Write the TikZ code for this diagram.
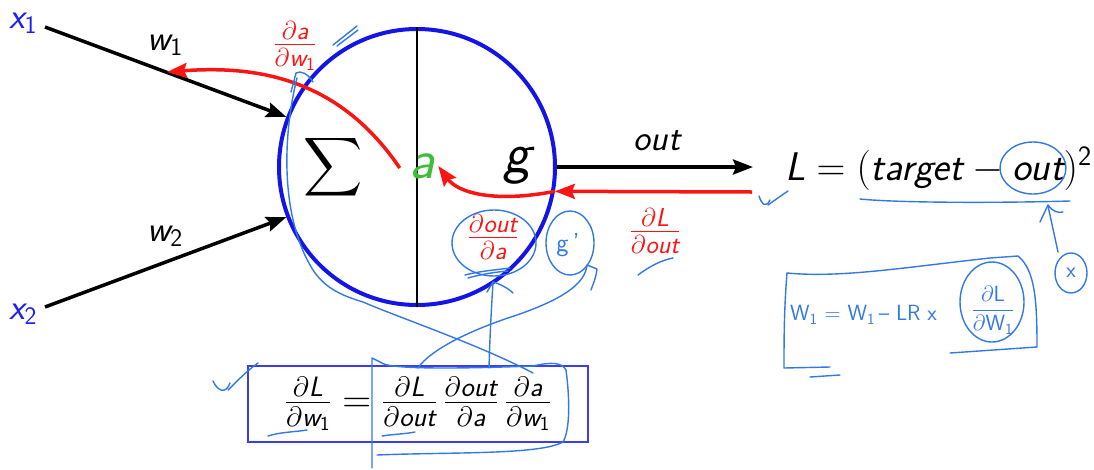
\RequirePackage{fix-cm}
\documentclass[tikz,border=0pt]{standalone}
\usepackage{amsmath}
\usepackage{graphicx}
\usepackage{fontspec}
\usetikzlibrary{arrows.meta}
\definecolor{nblue}{RGB}{20,20,230}
\definecolor{xblue}{RGB}{30,30,240}
\definecolor{ared}{RGB}{250,20,20}
\definecolor{agreen}{RGB}{60,190,60}
\definecolor{hw}{RGB}{50,120,230}
\definecolor{bbox}{RGB}{60,60,235}
\newcommand\sv[1]{\textsf{\itshape #1}}
\newcommand\pdf[2]{\tfrac{\partial\sv{#1}}{\partial\sv{#2}}}
\tikzset{
  wire/.style={line width=3.5pt,-{Stealth[length=20pt,width=15pt,inset=3pt]}},
  grad/.style={line width=3.5pt,ared,-{Stealth[length=20pt,width=15pt,inset=3pt]}},
  big/.style={font=\fontsize{36}{40}\selectfont,inner sep=0pt},
  eqf/.style={font=\fontsize{40}{44}\selectfont,inner sep=0pt},
  redlab/.style={font=\fontsize{37}{40}\selectfont,text=ared,inner sep=0pt},
  hwline/.style={hw,line width=1.4pt,line cap=round,line join=round},
  hwtext/.style={hw,font=\sffamily\fontsize{22}{24}\selectfont,inner sep=0pt},
}
\begin{document}
\begin{tikzpicture}[x=1pt,y=-1pt]
\useasboundingbox (0,0) rectangle (1094,469);
% neuron
\node[circle,draw=nblue,line width=4pt,minimum size=276pt,inner sep=0pt] (neuron) at (417,167) {};
\draw[line width=1.2pt] (neuron.north) -- (neuron.south);
\node[font=\fontsize{43}{46}\selectfont,inner sep=0pt] (sum) at (333,167) {\scalebox{1.65}{$\displaystyle\sum$}};
\node[font=\fontsize{56}{60}\selectfont,text=agreen,inner sep=2pt] (a) at (423,166) {\sv{a}};
\node[font=\fontsize{58}{60}\selectfont,inner sep=0pt] (g) at (519,166) {\sv{g}};
% inputs
\node[big,text=xblue] (x1) at (23,23) {$\sv{x}_{\textsf{1}}$};
\node[big,text=xblue] (x2) at (23,314) {$\sv{x}_{\textsf{2}}$};
\coordinate (x1s) at (45,27);
\coordinate (x2s) at (45,307);
\draw[wire] (x1s) -- (neuron.159);
\draw[wire] (x2s) -- (neuron.201);
\node[big] (w1) at (165,45) {$\sv{w}_{\textsf{1}}$};
\node[big] (w2) at (165,236) {$\sv{w}_{\textsf{2}}$};
% output
\node[eqf,anchor=base west] (eq) at (785,180) {$\sv{L} = (\sv{target} - \sv{out})^{\textsf{2}}$};
\coordinate (outend) at (753,167);
\draw[wire] (neuron.east) -- (outend);
\node[big] (outlab) at (658,141) {\sv{out}};
% gradients
\coordinate (Lgs) at (752,192);
\draw[grad] (Lgs) -- (neuron.-10.4);
\draw[grad] (neuron.-10.4) .. controls (495,203) and (458,193) .. (a.east);
\coordinate (w1g) at (167,72);
\draw[grad] ([xshift=-8pt,yshift=-2pt]a.west) .. controls (340,80) and (260,65) .. (w1g);
\node[redlab] (dLdout) at (655,231) {$\pdf{L}{out}$};
\node[redlab] (doutda) at (493,237) {$\pdf{out}{a}$};
\node[redlab] (dadw) at (295,46) {$\tfrac{\partial\sv{a}}{\partial\sv{w}_{\textsf{1}}}$};
% chain rule box
\node[draw=bbox,line width=1.8pt,minimum width=340pt,minimum height=76pt,inner sep=0pt,eqf] (chain) at (418,404)
  {$\tfrac{\partial\sv{L}}{\partial\sv{w}_{\textsf{1}}} = \pdf{L}{out}\,\pdf{out}{a}\,\tfrac{\partial\sv{a}}{\partial\sv{w}_{\textsf{1}}}$};
% ---- handwritten annotations ----
\draw[hwline] (333,45) -- (357,26);
\draw[hwline] (337,46) -- (358,30);
\draw[hwline] (291,92) -- (296,73) .. controls (301,70) and (308,74) .. (313,82);
\draw[hwline] (297,78) .. controls (284,130) and (279,210) .. (310,265)
  .. controls (322,287) and (340,295) .. (363,302)
  .. controls (400,318) and (480,345) .. (533,373);
\draw[hwline] (494,243) ellipse [x radius=42, y radius=33];
\draw[hwline] (465,275) .. controls (480,271) and (495,270) .. (510,268);
\draw[hwline] (468,278) .. controls (482,274) and (496,272) .. (508,271);
\draw[hwline] (570,243) ellipse [x radius=24, y radius=32];
\node[hwtext,font=\sffamily\fontsize{26}{28}\selectfont] (gp) at (568,245) {g\,'};
\draw[hwline] (418,368) .. controls (430,350) and (470,330) .. (517,315)
  .. controls (560,300) and (585,285) .. (587,265) -- (597,269) .. controls (596,278) and (593,284) .. (591,290);
\draw[hwline] (489,368) .. controls (490,330) and (492,300) .. (493,282);
\draw[hwline] (487,292) -- (493,282) .. controls (500,284) and (508,288) .. (513,293);
\draw[hwline] (638,275) .. controls (650,266) and (662,260) .. (673,258);
% bracket around factors
\draw[hwline] (372,468) -- (372,358) -- (384,364) .. controls (400,370) and (480,368) .. (533,366)
  .. controls (550,362) and (562,362) .. (566,370) .. controls (570,400) and (570,430) .. (563,442)
  .. controls (540,455) and (450,452) .. (377,455);
\draw[hwline] (268,436) .. controls (280,432) and (295,432) .. (307,430);
\draw[hwline] (382,436) .. controls (395,434) and (405,434) .. (415,432);
\draw[hwline] (213,381) .. controls (218,392) and (226,394) .. (230,383);
\draw[hwline] (228,390) .. controls (238,380) and (248,370) .. (258,363);
\draw[hwline] (759,196) .. controls (762,205) and (766,208) .. (770,200);
\draw[hwline] (768,205) .. controls (775,200) and (782,195) .. (788,191);
% equation annotations
\draw[hwline] (860,199) .. controls (900,203) and (1000,203) .. (1070,201);
\draw[hwline] (1033,168) ellipse [x radius=33, y radius=26];
\draw[hwline] (1058,252) -- (1048,206);
\draw[hwline] (1040,222) -- (1048,205) .. controls (1053,212) and (1058,213) .. (1063,212);
\draw[hwline] (1071,273) ellipse [x radius=16, y radius=20];
\node[hwtext] (chi) at (1071,273) {x};
% handwritten update rule
\draw[hwline] (787,273) .. controls (840,278) and (900,268) .. (990,258) -- (1018,256)
  .. controls (1035,270) and (1037,300) .. (1037,347) -- (950,353);
\draw[hwline] (787,273) .. controls (784,310) and (784,340) .. (784,368) -- (830,367);
\draw[hwline] (810,377) -- (840,375);
\draw[hwline] (992,302) ellipse [x radius=32, y radius=40];
\node[hwtext,anchor=west] (upd) at (790,315) {W\textsubscript{1} = W\textsubscript{1}\,-- LR x};
\node[hwtext] (updf) at (993,310) {$\dfrac{\partial \textsf{L}}{\partial \textsf{W}_{\textsf{1}}}$};
\end{tikzpicture}
\end{document}
